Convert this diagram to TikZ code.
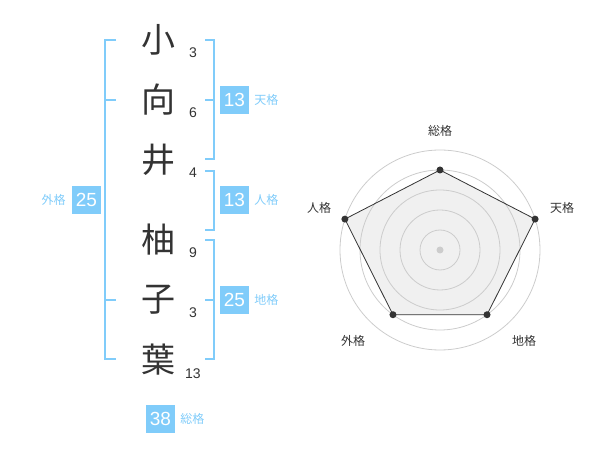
\documentclass[tikz,border=0pt]{standalone}
\usepackage{fontspec}
\setmainfont{Liberation Sans}
\newfontfamily\jp{Noto Sans CJK JP}
\usetikzlibrary{positioning}
\definecolor{sora}{RGB}{128,204,250}
\definecolor{sumi}{RGB}{51,51,51}
\definecolor{usuzumi}{RGB}{204,204,204}
\definecolor{shiro}{RGB}{240,240,240}
\tikzstyle{kanji} = [font=\jp\fontsize{34pt}{34pt}\selectfont, text=sumi, inner sep=0pt]
\tikzstyle{kakusu} = [font=\fontsize{14pt}{14pt}\selectfont, text=sumi, inner sep=0pt, anchor=base]
\tikzstyle{kaku} = [rectangle, fill=sora, text=white, minimum width=29pt, minimum height=28pt, inner sep=0pt, font=\fontsize{19pt}{19pt}\selectfont]
\tikzstyle{kakumei} = [font=\jp\fontsize{12pt}{12pt}\selectfont, text=sora, inner sep=0pt]
\tikzstyle{kakko} = [draw=sora, line width=2pt]
\tikzstyle{wa} = [draw=usuzumi, line width=0.8pt]
\tikzstyle{ten} = [circle, fill=sumi, inner sep=0pt, minimum size=7pt]
\tikzstyle{jiku} = [font=\jp\fontsize{12pt}{12pt}\selectfont, text=sumi, inner sep=0pt]

\begin{document}
\begin{tikzpicture}[x=1pt, y=-1pt]
  \useasboundingbox (0,0) rectangle (600,470);

  % 名前
  \node[kanji] (c1) at (158,40) {小};
  \node[kanji] (c2) at (158,100) {向};
  \node[kanji] (c3) at (158,160) {井};
  \node[kanji] (c4) at (158,240) {柚};
  \node[kanji] (c5) at (158,300) {子};
  \node[kanji] (c6) at (158,360) {葉};

  % 画数
  \node[kakusu] (n1) at (193,58) {3};
  \node[kakusu] (n2) at (193,118) {6};
  \node[kakusu] (n3) at (193,178) {4};
  \node[kakusu] (n4) at (193,258) {9};
  \node[kakusu] (n5) at (193,318) {3};
  \node[kakusu] (n6) at (193,378) {13};

  % 括弧
  \draw[kakko] (116,40) -- (105,40) -- (105,359) -- (116,359);
  \draw[kakko] (105,100) -- (116,100);
  \draw[kakko] (105,300) -- (116,300);

  \draw[kakko] (205,40) -- (214,40) -- (214,159) -- (205,159);
  \draw[kakko] (214,100) -- (205,100);
  \draw[kakko] (205,171) -- (214,171) -- (214,230) -- (205,230);
  \draw[kakko] (205,240) -- (214,240) -- (214,359) -- (205,359);
  \draw[kakko] (214,300) -- (205,300);

  % 五格
  \node[kaku] (ten) at (234.5,100) {13};
  \node[kakumei, right=5pt of ten] (tenm) {天格};
  \node[kaku] (jin) at (234.5,200) {13};
  \node[kakumei, right=5pt of jin] (jinm) {人格};
  \node[kaku] (chi) at (234.5,300) {25};
  \node[kakumei, right=5pt of chi] (chim) {地格};
  \node[kaku] (gai) at (86.5,200) {25};
  \node[kakumei, left=6pt of gai] (gaim) {外格};
  \node[kaku] (sou) at (160.5,419) {38};
  \node[kakumei, right=5pt of sou] (soum) {総格};

  % レーダー
  \begin{scope}[shift={(440,250)}, y=1pt]
    \coordinate (p1) at (90:80);
    \coordinate (p2) at (18:100);
    \coordinate (p3) at (-54:80);
    \coordinate (p4) at (-126:80);
    \coordinate (p5) at (162:100);
    \fill[shiro] (p1) -- (p2) -- (p3) -- (p4) -- (p5) -- cycle;
    \foreach \r in {20,40,...,100}
      \draw[wa] (0,0) circle (\r);
    \draw[sumi, line width=0.8pt] (p1) -- (p2) -- (p3) -- (p4) -- (p5) -- cycle;
    \foreach \i in {1,...,5}
      \node[ten] (d\i) at (p\i) {};
    \node[circle, fill=usuzumi, inner sep=0pt, minimum size=7pt] (o) at (0,0) {};

    \node[jiku] (a1) at (0,119) {総格};
    \node[jiku] (a2) at (122,42) {天格};
    \node[jiku] (a3) at (84,-91) {地格};
    \node[jiku] (a4) at (-87,-91) {外格};
    \node[jiku] (a5) at (-121,42) {人格};
  \end{scope}
\end{tikzpicture}
\end{document}
